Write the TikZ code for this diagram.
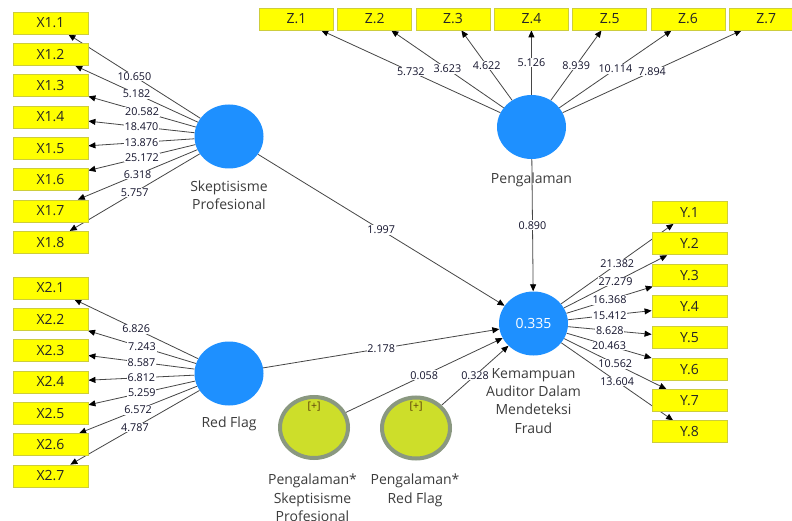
\documentclass[tikz,border=0pt]{standalone}
\usepackage{fontspec}
\setmainfont{Open Sans}
\usetikzlibrary{shapes.geometric,arrows.meta,backgrounds}
\definecolor{lvblue}{RGB}{30,144,255}
\definecolor{indyellow}{RGB}{255,255,0}
\definecolor{indborder}{RGB}{205,205,60}
\definecolor{modfill}{RGB}{205,222,42}
\definecolor{modring}{RGB}{138,152,128}
\definecolor{edgecol}{RGB}{70,70,70}
\definecolor{numcol}{RGB}{20,20,45}
\definecolor{lvtext}{RGB}{60,60,60}
\definecolor{plustext}{RGB}{90,60,10}
\begin{document}
\begin{tikzpicture}[x=1pt,y=-1pt,
 ind/.style={draw=indborder,fill=indyellow,line width=0.8pt,minimum width=75pt,minimum height=22pt,inner sep=0pt,font=\fontsize{14}{16}\selectfont,text=black!85},
 zind/.style={ind,minimum width=74pt},
 lv/.style={ellipse,fill=lvblue,minimum width=69pt,minimum height=64pt,inner sep=0pt},
 modlv/.style={ellipse,draw=modring,fill=modfill,line width=4pt,minimum width=68pt,minimum height=61pt,inner sep=0pt},
 lvlabel/.style={align=center,anchor=north,font=\fontsize{14}{18.5}\selectfont,text=lvtext,inner sep=0pt},
 plusmark/.style={font=\fontsize{10.5}{12}\selectfont,text=plustext,inner sep=0pt},
 arr/.style={draw=edgecol,line width=0.8pt,-{Triangle[length=7pt,width=6pt,color=black]}},
 num/.style={fill=white,inner sep=0.8pt,font=\fontsize{10.8}{12}\selectfont,text=numcol},
]
\path[use as bounding box,clip] (0,0) rectangle (792,521);

% latent variables
\node[lv] (skep) at (229,136.5) {};
\node[lv] (rf) at (229,373.5) {};
\node[lv] (peng) at (531.5,127) {};
\node[lv,text=white,font=\fontsize{14}{16}\selectfont] (kem) at (533.5,323.5) {0.335};
\node[modlv] (mod1) at (314,427.5) {};
\node[modlv] (mod2) at (416,428) {};
\node[plusmark] (plus1) at (314,407) {[+]};
\node[plusmark] (plus2) at (416,407) {[+]};

% labels of latent variables
\node[lvlabel,font=\fontsize{14}{17.8}\selectfont] (skeplab) at (229,181) {Skeptisisme\\Profesional};
\node[lvlabel] (rflab) at (229,417) {Red Flag};
\node[lvlabel] (penglab) at (531.5,173) {Pengalaman};
\node[lvlabel,font=\fontsize{14}{18.3}\selectfont] (kemlab) at (533.5,368) {Kemampuan\\Auditor Dalam\\Mendeteksi\\Fraud};
\node[lvlabel] (mod1lab) at (312.5,474) {Pengalaman*\\Skeptisisme\\Profesional};
\node[lvlabel] (mod2lab) at (415,474) {Pengalaman*\\Red Flag};

% indicators X1
\foreach \i in {1,...,8}{
  \node[ind] (x1\i) at (50.5,{23+31.33*(\i-1)}) {X1.\i};
}
% indicators X2
\foreach \i in {1,...,7}{
  \node[ind] (x2\i) at (50.5,{288+31.33*(\i-1)}) {X2.\i};
}
% indicators Z
\foreach \i in {1,...,7}{
  \node[zind] (z\i) at ({296.5+78.3*(\i-1)},19) {Z.\i};
}
% indicators Y
\foreach \i in {1,...,8}{
  \node[ind] (y\i) at (689.5,{212.5+31.33*(\i-1)}) {Y.\i};
}

\begin{scope}[on background layer]
\fill[white] (0,0) rectangle (792,521);
% outer loadings X1
\foreach \i/\v in {1/10.650,2/5.182,3/20.582,4/18.470,5/13.876,6/25.172,7/6.318,8/5.757}{
  \draw[arr] (skep) -- node[num]{\v} (x1\i);
}
\foreach \i/\v in {1/6.826,2/7.243,3/8.587,4/6.812,5/5.259,6/6.572,7/4.787}{
  \draw[arr] (rf) -- node[num]{\v} (x2\i);
}
\foreach \i/\v in {1/5.732,2/3.623,3/4.622,4/5.126,5/8.939,6/10.114,7/7.894}{
  \draw[arr] (peng) -- node[num]{\v} (z\i);
}
\foreach \i/\v in {1/21.382,2/27.279,3/16.368,4/15.412,5/8.628,6/20.463,7/10.562,8/13.604}{
  \draw[arr] (kem) -- node[num]{\v} (y\i);
}
% structural paths
\draw[arr] (skep) -- node[num]{1.997} (kem);
\draw[arr] (peng) -- node[num]{0.890} (kem);
\draw[arr] (rf) -- node[num]{2.178} (kem);
\draw[arr] (mod1) -- node[num]{0.058} (kem);
\draw[arr] (mod2) -- node[num]{0.328} (kem);
\end{scope}
\end{tikzpicture}
\end{document}
